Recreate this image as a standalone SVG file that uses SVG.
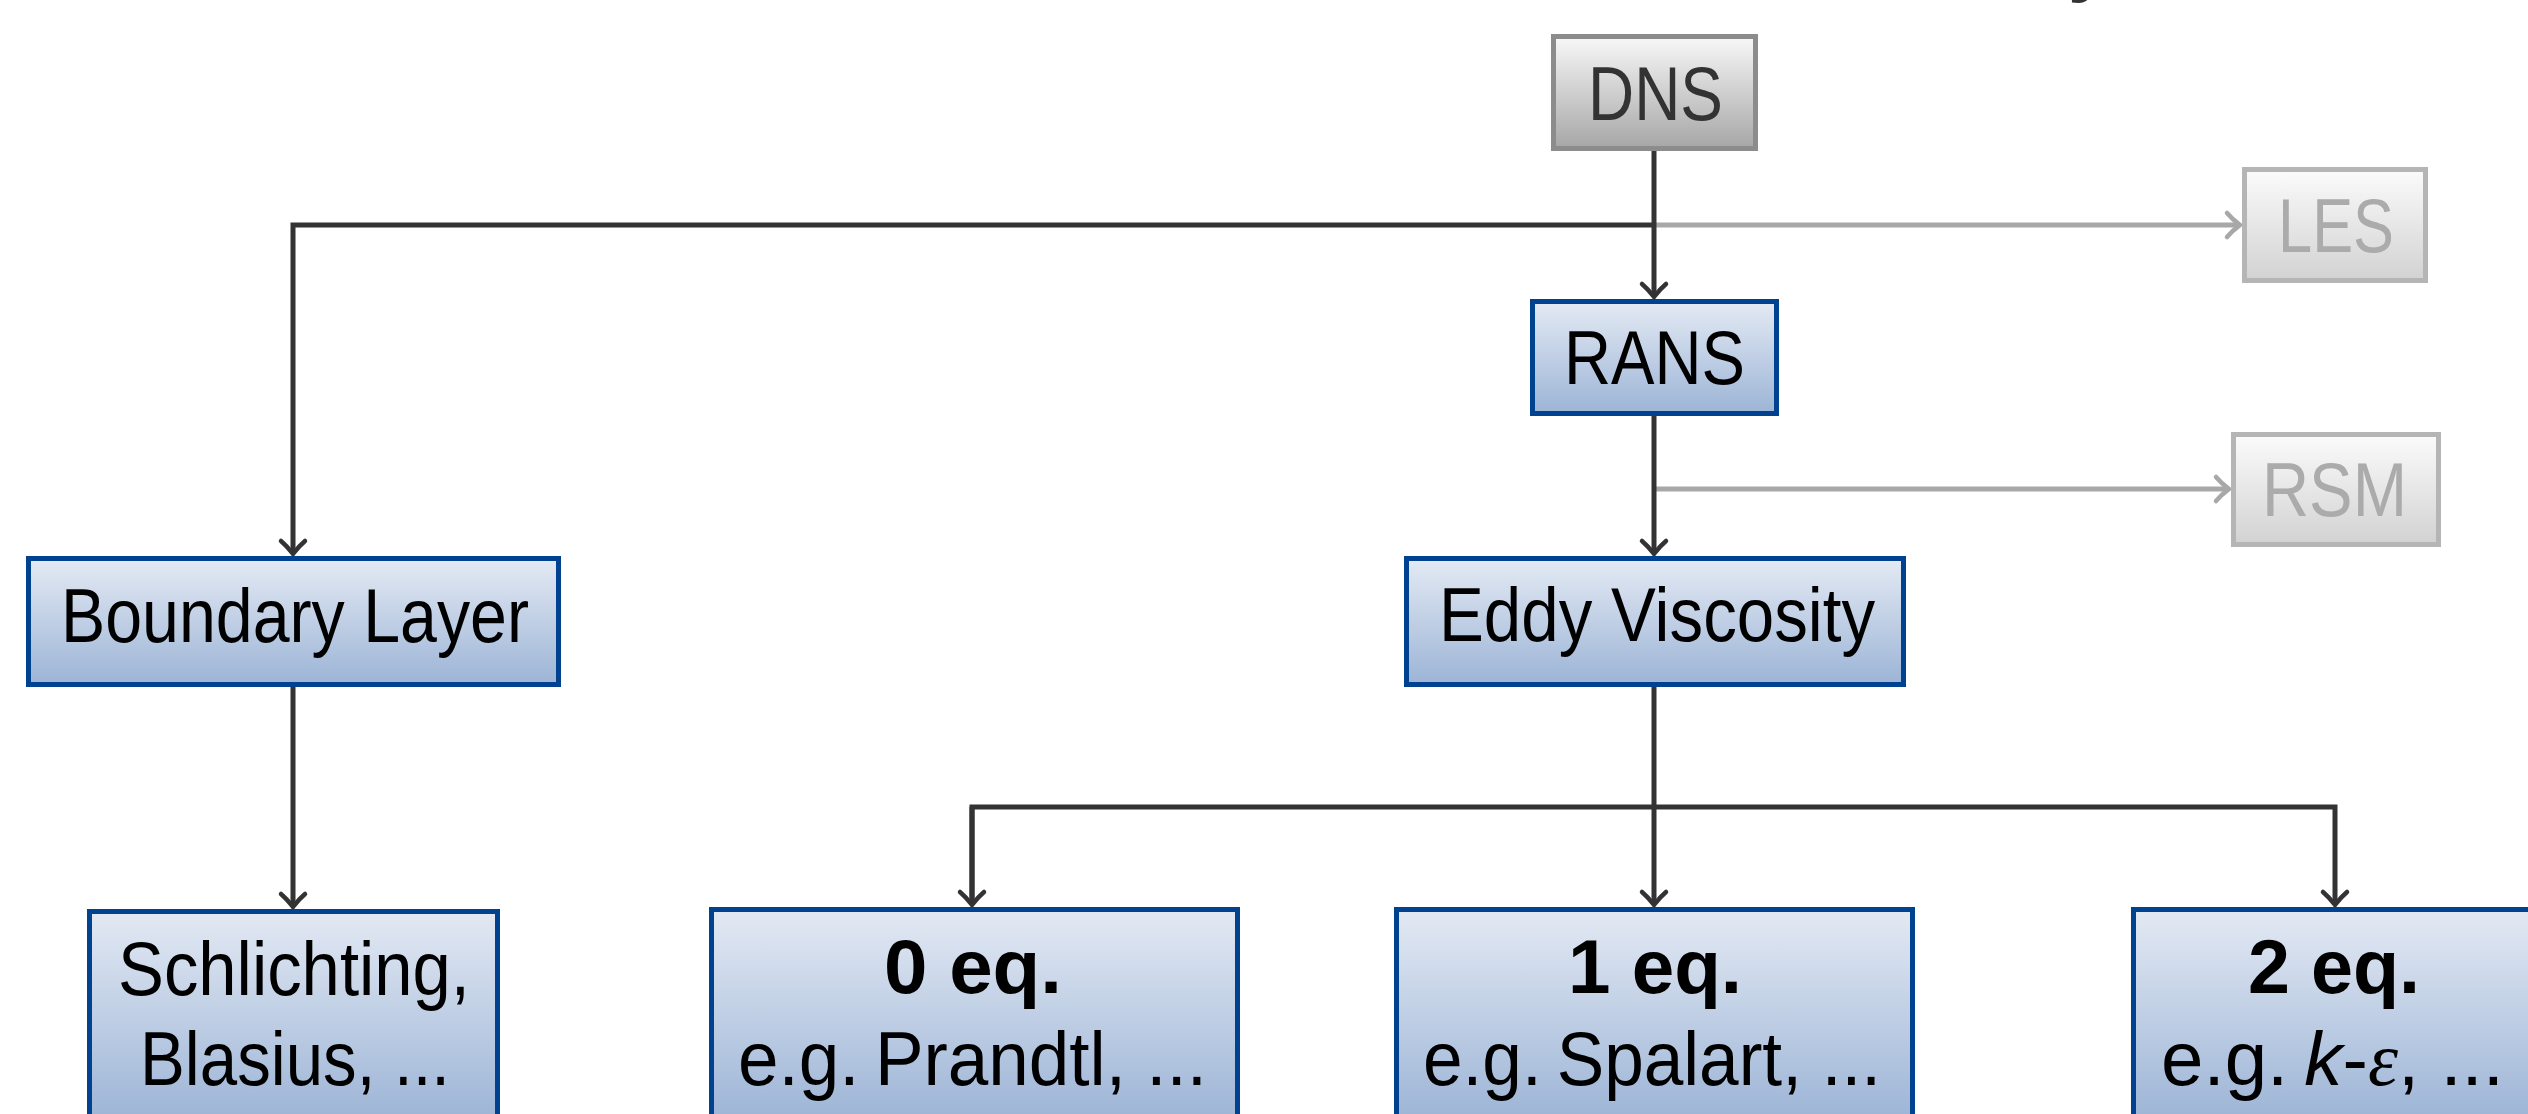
<svg xmlns="http://www.w3.org/2000/svg" width="2528" height="1114" viewBox="0 0 2528 1114">
  <style>
    .lbl { font-family: "Liberation Sans", Arial, sans-serif; font-size: 76px; fill: #000; }
    .b { font-weight: bold; }
    .dark { fill: #333333; }
    .faint { fill: #ababab; }
    .blue { fill: url(#gBlue); stroke: #00428f; stroke-width: 5; }
    .grey { fill: url(#gGrey); stroke: #8c8c8c; stroke-width: 5; }
    .pale { fill: url(#gPale); stroke: #b5b5b5; stroke-width: 5; }
    .wire { fill: none; stroke: #333333; stroke-width: 5; }
    .wire-pale { fill: none; stroke: #a8a8a8; stroke-width: 5; }
  </style>
  <defs>
    <linearGradient id="gBlue" x1="0" y1="0" x2="0" y2="1">
      <stop offset="0" stop-color="#e4eaf4"/>
      <stop offset="1" stop-color="#9cb4d6"/>
    </linearGradient>
    <linearGradient id="gBlueTall" gradientUnits="userSpaceOnUse" x1="0" y1="907" x2="0" y2="1114">
      <stop offset="0" stop-color="#e4eaf4"/>
      <stop offset="1" stop-color="#9fb6d7"/>
    </linearGradient>
    <linearGradient id="gGrey" x1="0" y1="0" x2="0" y2="1">
      <stop offset="0" stop-color="#f8f8f8"/>
      <stop offset="1" stop-color="#a6a6a6"/>
    </linearGradient>
    <linearGradient id="gPale" x1="0" y1="0" x2="0" y2="1">
      <stop offset="0" stop-color="#fbfbfb"/>
      <stop offset="1" stop-color="#d2d2d2"/>
    </linearGradient>
    <marker id="tipDark" markerUnits="userSpaceOnUse" markerWidth="30" markerHeight="30" refX="0" refY="0" orient="auto" overflow="visible">
      <path d="M -13 -12 C -7 -5 -2 -1.5 0 0 C -2 1.5 -7 5 -13 12" fill="none" stroke="#333333" stroke-width="4.5" stroke-linecap="round"/>
    </marker>
    <marker id="tipPale" markerUnits="userSpaceOnUse" markerWidth="30" markerHeight="30" refX="0" refY="0" orient="auto" overflow="visible">
      <path d="M -13 -12 C -7 -5 -2 -1.5 0 0 C -2 1.5 -7 5 -13 12" fill="none" stroke="#a8a8a8" stroke-width="4.5" stroke-linecap="round"/>
    </marker>
  </defs>

  <rect width="2528" height="1114" fill="#ffffff"/>

  <!-- tail of the heading, cut off at the top edge -->
  <text class="lbl b dark" x="2068" y="-13" font-size="170">y</text>

  <!-- connectors -->
  <g id="connectors">
    <path class="wire-pale" d="M 1654 225 H 2240" marker-end="url(#tipPale)"/>
    <path class="wire-pale" d="M 1654 489 H 2229" marker-end="url(#tipPale)"/>
    <path class="wire" d="M 1654 225 H 293 V 554" marker-end="url(#tipDark)"/>
    <path class="wire" d="M 1654 151 V 297" marker-end="url(#tipDark)"/>
    <path class="wire" d="M 1654 416 V 554" marker-end="url(#tipDark)"/>
    <path class="wire" d="M 293 687 V 907" marker-end="url(#tipDark)"/>
    <path class="wire" d="M 1654 687 V 905" marker-end="url(#tipDark)"/>
    <path class="wire" d="M 972 905 V 807 H 2335 V 905" marker-end="url(#tipDark)"/>
    <path class="wire" d="M 972 807 V 905" marker-end="url(#tipDark)"/>
  </g>

  <g id="node-dns">
    <rect class="grey" x="1553.5" y="36.5" width="202" height="112"/>
    <text class="lbl dark" x="1588" y="120" textLength="135" lengthAdjust="spacingAndGlyphs">DNS</text>
  </g>

  <g id="node-les">
    <rect class="pale" x="2244.5" y="169.5" width="181" height="111"/>
    <text class="lbl faint" x="2278" y="252" textLength="116" lengthAdjust="spacingAndGlyphs">LES</text>
  </g>

  <g id="node-rans">
    <rect class="blue" x="1532.5" y="301.5" width="244" height="112"/>
    <text class="lbl" x="1564" y="384" textLength="181" lengthAdjust="spacingAndGlyphs">RANS</text>
  </g>

  <g id="node-rsm">
    <rect class="pale" x="2233.5" y="434.5" width="205" height="110"/>
    <text class="lbl faint" x="2262" y="516" textLength="145" lengthAdjust="spacingAndGlyphs">RSM</text>
  </g>

  <g id="node-eddy">
    <rect class="blue" x="1406.5" y="558.5" width="497" height="126"/>
    <text class="lbl" x="1439" y="641" textLength="436" lengthAdjust="spacingAndGlyphs">Eddy Viscosity</text>
  </g>

  <g id="node-boundary">
    <rect class="blue" x="28.5" y="558.5" width="530" height="126"/>
    <text class="lbl" x="61" y="642" textLength="468" lengthAdjust="spacingAndGlyphs">Boundary Layer</text>
  </g>

  <g id="node-schlichting">
    <rect class="blue" x="89.5" y="911.5" width="408" height="230" style="fill:url(#gBlueTall)"/>
    <text class="lbl" x="118" y="995" textLength="352" lengthAdjust="spacingAndGlyphs">Schlichting,</text>
    <text class="lbl" x="140" y="1085" textLength="310" lengthAdjust="spacingAndGlyphs">Blasius, ...</text>
  </g>

  <g id="node-0eq">
    <rect class="blue" x="711.5" y="909.5" width="526" height="230" style="fill:url(#gBlueTall)"/>
    <text class="lbl b" x="884" y="993" textLength="178" lengthAdjust="spacingAndGlyphs">0 eq.</text>
    <text class="lbl" x="738" y="1085" textLength="469" lengthAdjust="spacingAndGlyphs">e.g.<tspan dx="16">Prandtl, ...</tspan></text>
  </g>

  <g id="node-1eq">
    <rect class="blue" x="1396.5" y="909.5" width="516" height="230" style="fill:url(#gBlueTall)"/>
    <text class="lbl b" x="1568" y="993" textLength="174" lengthAdjust="spacingAndGlyphs">1 eq.</text>
    <text class="lbl" x="1423" y="1085" textLength="458" lengthAdjust="spacingAndGlyphs">e.g.<tspan dx="16">Spalart, ...</tspan></text>
  </g>

  <g id="node-2eq">
    <rect class="blue" x="2133.5" y="909.5" width="406" height="230" style="fill:url(#gBlueTall)"/>
    <text class="lbl b" x="2248" y="993" textLength="172" lengthAdjust="spacingAndGlyphs">2 eq.</text>
    <text class="lbl" x="2161" y="1085" textLength="343" lengthAdjust="spacingAndGlyphs">e.g.<tspan dx="16" font-style="italic">k</tspan>-<tspan font-family="'Liberation Serif', serif" font-style="italic">ε</tspan>, ...</text>
  </g>
</svg>
